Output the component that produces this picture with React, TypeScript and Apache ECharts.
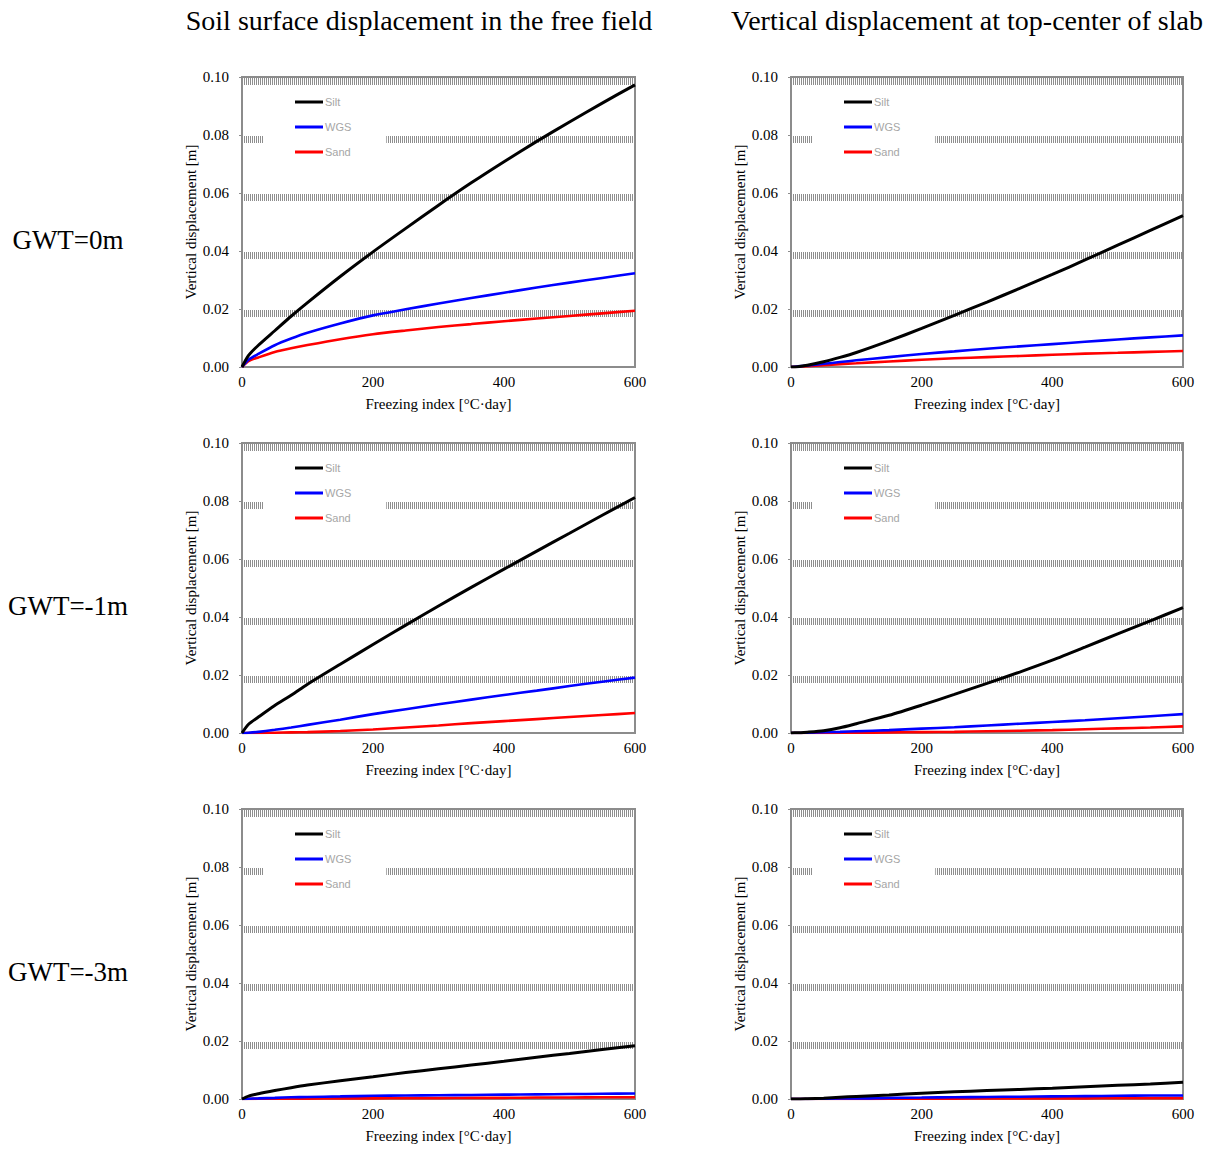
import { useEffect, useRef } from 'react';
import * as echarts from 'echarts';

const FREEZING_INDEX = [0, 10, 25, 50, 75, 100, 150, 200, 250, 300, 350, 400, 450, 500, 550, 600];
const SOIL_NAMES = ['Silt', 'WGS', 'Sand'];
const SOIL_COLORS = ['#000000', '#0000ff', '#ff0000'];
const SOIL_WIDTHS = [3, 2.6, 2.6];
const COLUMN_TITLES = ['Soil surface displacement in the free field', 'Vertical displacement at top-center of slab'];
const ROW_LABELS = ['GWT=0m', 'GWT=-1m', 'GWT=-3m'];
const X_AXIS_NAME = 'Freezing index [°C·day]';
const Y_AXIS_NAME = 'Vertical displacement [m]';

// GWT = 0 m
const FREE_GWT0_SILT = [0, 0.004, 0.0075, 0.0125, 0.0175, 0.0222, 0.0312, 0.0397, 0.0478, 0.0558, 0.0635, 0.0708, 0.0778, 0.0845, 0.091, 0.0973];
const FREE_GWT0_WGS = [0, 0.0025, 0.0045, 0.0075, 0.0098, 0.0118, 0.015, 0.0178, 0.0199, 0.0219, 0.0238, 0.0256, 0.0274, 0.0291, 0.0307, 0.0323];
const FREE_GWT0_SAND = [0, 0.002, 0.0033, 0.0052, 0.0065, 0.0076, 0.0096, 0.0113, 0.0126, 0.0138, 0.0148, 0.0158, 0.0167, 0.0176, 0.0185, 0.0194];
const SLAB_GWT0_SILT = [0, 0.0001, 0.0006, 0.0018, 0.0033, 0.005, 0.009, 0.0133, 0.0178, 0.0224, 0.0271, 0.0319, 0.0369, 0.042, 0.0471, 0.0522];
const SLAB_GWT0_WGS = [0, 0.0002, 0.0005, 0.0011, 0.0017, 0.0023, 0.0034, 0.0045, 0.0054, 0.0063, 0.0071, 0.0079, 0.0087, 0.0095, 0.0102, 0.0109];
const SLAB_GWT0_SAND = [0, 0.0001, 0.0003, 0.0006, 0.001, 0.0013, 0.0019, 0.0025, 0.003, 0.0034, 0.0038, 0.0042, 0.0046, 0.0049, 0.0052, 0.0055];
// GWT = -1 m
const FREE_GWT1_SILT = [0, 0.003, 0.0055, 0.0095, 0.013, 0.0168, 0.0237, 0.0305, 0.0372, 0.0438, 0.0502, 0.0565, 0.0627, 0.0689, 0.0751, 0.0812];
const FREE_GWT1_WGS = [0, 0.0001, 0.0004, 0.0011, 0.0019, 0.0028, 0.0046, 0.0065, 0.0082, 0.0099, 0.0115, 0.0131, 0.0146, 0.0162, 0.0177, 0.0191];
const FREE_GWT1_SAND = [0, 0, 0, 0.0001, 0.0002, 0.0003, 0.0007, 0.0012, 0.0019, 0.0026, 0.0034, 0.0041, 0.0048, 0.0055, 0.0062, 0.0069];
const SLAB_GWT1_SILT = [0, 0.0001, 0.0003, 0.0008, 0.0018, 0.0032, 0.0061, 0.0096, 0.0133, 0.0171, 0.021, 0.0251, 0.0296, 0.0342, 0.0387, 0.0432];
const SLAB_GWT1_WGS = [0, 0, 0.0001, 0.0003, 0.0004, 0.0006, 0.001, 0.0015, 0.002, 0.0026, 0.0032, 0.0038, 0.0044, 0.0051, 0.0058, 0.0065];
const SLAB_GWT1_SAND = [0, 0, 0, 0, 0.0001, 0.0001, 0.0002, 0.0003, 0.0004, 0.0006, 0.0008, 0.001, 0.0013, 0.0016, 0.0019, 0.0023];
// GWT = -3 m
const FREE_GWT3_SILT = [0, 0.001, 0.0018, 0.0029, 0.0039, 0.0048, 0.0063, 0.0077, 0.0091, 0.0104, 0.0117, 0.013, 0.0144, 0.0157, 0.0171, 0.0184];
const FREE_GWT3_WGS = [0, 0.0001, 0.0002, 0.0004, 0.0006, 0.0007, 0.0009, 0.0011, 0.0012, 0.0013, 0.0014, 0.0015, 0.0016, 0.0017, 0.0018, 0.0019];
const FREE_GWT3_SAND = [0, 0, 0.0001, 0.0001, 0.0001, 0.0001, 0.0002, 0.0002, 0.0003, 0.0003, 0.0004, 0.0004, 0.0005, 0.0005, 0.0006, 0.0006];
const SLAB_GWT3_SILT = [0, 0, 0.0001, 0.0003, 0.0006, 0.0009, 0.0014, 0.002, 0.0025, 0.0029, 0.0033, 0.0037, 0.0042, 0.0047, 0.0052, 0.0058];
const SLAB_GWT3_WGS = [0, 0, 0, 0.0001, 0.0002, 0.0002, 0.0004, 0.0005, 0.0006, 0.0007, 0.0008, 0.0009, 0.001, 0.0011, 0.0012, 0.0012];
const SLAB_GWT3_SAND = [0, 0, 0, 0, 0, 0, 0.0001, 0.0001, 0.0001, 0.0002, 0.0002, 0.0002, 0.0002, 0.0003, 0.0003, 0.0003];

const PANELS = [
  [FREE_GWT0_SILT, FREE_GWT0_WGS, FREE_GWT0_SAND],
  [SLAB_GWT0_SILT, SLAB_GWT0_WGS, SLAB_GWT0_SAND],
  [FREE_GWT1_SILT, FREE_GWT1_WGS, FREE_GWT1_SAND],
  [SLAB_GWT1_SILT, SLAB_GWT1_WGS, SLAB_GWT1_SAND],
  [FREE_GWT3_SILT, FREE_GWT3_WGS, FREE_GWT3_SAND],
  [SLAB_GWT3_SILT, SLAB_GWT3_WGS, SLAB_GWT3_SAND],
];

const SERIF = "'Liberation Serif', 'Times New Roman', serif";
const COL_LEFT = [242, 791];
const COL_WIDTH = [393, 392];
const ROW_TOP = [77, 443, 809];
const PLOT_H = 290;
const BAND_SHIFT = 4.5;

export default function App() {
  const ref = useRef<HTMLDivElement>(null);
  useEffect(() => {
    if (!ref.current) return;
    const chart = echarts.init(ref.current, null, { renderer: 'svg' });
    const grids: any[] = [];
    const xAxes: any[] = [];
    const yAxes: any[] = [];
    const series: any[] = [];
    const legends: any[] = [];
    PANELS.forEach((panel, i) => {
      const r = Math.floor(i / 2);
      const c = i % 2;
      grids.push({
        left: COL_LEFT[c], top: ROW_TOP[r], width: COL_WIDTH[c], height: PLOT_H,
        show: true, borderColor: '#8c8c8c', borderWidth: 2, backgroundColor: 'transparent',
      });
      xAxes.push({
        type: 'value', gridIndex: i, min: 0, max: 600, interval: 200,
        axisLine: { show: true, lineStyle: { color: '#8c8c8c', width: 2 } },
        axisTick: { show: false },
        splitLine: { show: false },
        axisLabel: { color: '#000', fontFamily: SERIF, fontSize: 15, margin: 7 },
        name: X_AXIS_NAME, nameLocation: 'middle', nameGap: 29,
        nameTextStyle: { color: '#000', fontFamily: SERIF, fontSize: 15 },
      });
      yAxes.push({
        type: 'value', gridIndex: i, min: 0, max: 0.1, interval: 0.02,
        axisLine: { show: true, lineStyle: { color: '#8c8c8c', width: 2 } },
        axisTick: { show: true, length: 3, lineStyle: { color: '#8c8c8c' } },
        splitLine: { show: false },
        axisLabel: { color: '#000', fontFamily: SERIF, fontSize: 15, margin: 13, formatter: (v: number) => v.toFixed(2) },
        name: Y_AXIS_NAME, nameLocation: 'middle', nameGap: 43,
        nameTextStyle: { color: '#000', fontFamily: SERIF, fontSize: 15 },
      });
      panel.forEach((vals, s) => {
        series.push({
          type: 'line', name: SOIL_NAMES[s], xAxisIndex: i, yAxisIndex: i,
          data: FREEZING_INDEX.map((x, k) => [x, vals[k]]),
          smooth: 0.25, symbol: 'none', showSymbol: false,
          lineStyle: { color: SOIL_COLORS[s], width: SOIL_WIDTHS[s] },
          itemStyle: { color: SOIL_COLORS[s] },
          z: 5 - s,
        });
      });
      legends.push({
        orient: 'vertical', left: COL_LEFT[c] + 21, top: ROW_TOP[r] + 11,
        icon: 'rect', itemWidth: 28, itemHeight: 3, itemGap: 11, padding: [7, 35, 7, 32],
        backgroundColor: '#ffffff', selectedMode: false,
        textStyle: { color: '#a6a6a6', fontSize: 11, lineHeight: 14, fontFamily: "'Liberation Sans', Arial, sans-serif", padding: [0, 0, 0, -3] },
        data: SOIL_NAMES,
      });
    });
    // hatched gridline bands (drawn slightly below each tick, as in the reference)
    PANELS.forEach((_p, i) => {
      const r = Math.floor(i / 2);
      const c = i % 2;
      const gi = PANELS.length + i;
      grids.push({ left: COL_LEFT[c], top: ROW_TOP[r] + BAND_SHIFT, width: COL_WIDTH[c], height: PLOT_H, show: false });
      xAxes.push({ type: 'value', gridIndex: gi, min: 0, max: 600, show: false });
      yAxes.push({
        type: 'value', gridIndex: gi, min: 0, max: 0.1, interval: 0.02, show: true,
        axisLine: { show: false }, axisTick: { show: false }, axisLabel: { show: false },
        splitLine: { show: true, showMinLine: false, showMaxLine: true, lineStyle: { color: '#8e8e8e', width: 7, type: [1, 1] } },
      });
    });
    const graphics: any[] = [];
    COLUMN_TITLES.forEach((t, c) => {
      graphics.push({ type: 'text', x: [419, 967][c], y: 20, style: { text: t, font: `28px ${SERIF}`, fill: '#000', textAlign: 'center', textVerticalAlign: 'middle' } });
    });
    ROW_LABELS.forEach((t, r) => {
      graphics.push({ type: 'text', x: 68, y: 240 + 366 * r, style: { text: t, font: `27px ${SERIF}`, fill: '#000', textAlign: 'center', textVerticalAlign: 'middle' } });
    });
    chart.setOption({
      animation: false,
      backgroundColor: '#ffffff',
      grid: grids, xAxis: xAxes, yAxis: yAxes, series, legend: legends, graphic: graphics,
    });
    return () => chart.dispose();
  }, []);
  return <div ref={ref} style={{ position: 'absolute', left: 0, top: 0, width: 1215, height: 1149 }} />;
}
